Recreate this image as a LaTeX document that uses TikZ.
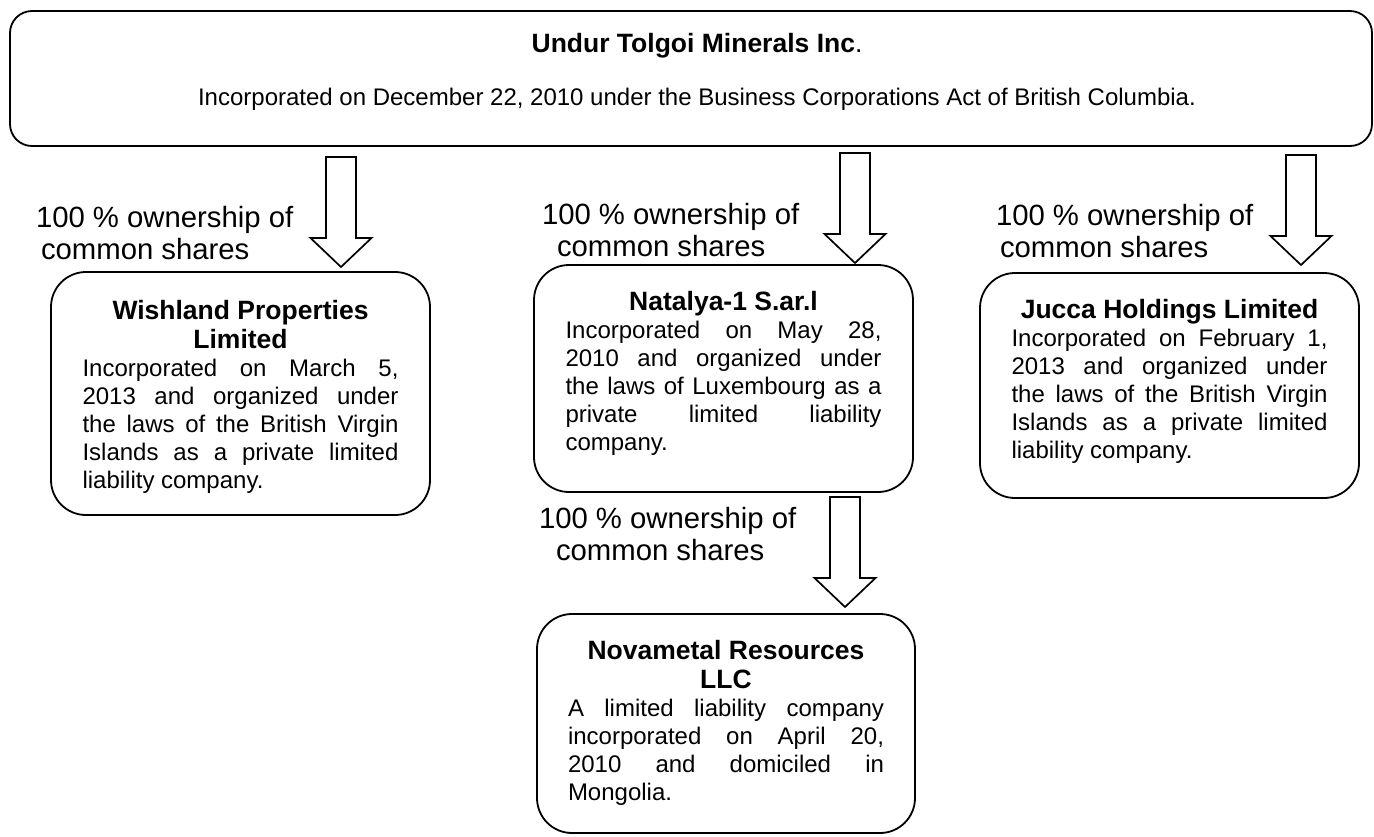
\documentclass[tikz,border=0pt]{standalone}
\usepackage{fontspec}
\setmainfont{Liberation Sans}
\usetikzlibrary{calc}
\newcommand\jl[1]{\makebox[\linewidth][s]{#1}\par}
\newcommand\lastline[1]{\makebox[\linewidth][l]{#1}\par}
\newcommand\boxtitle[1]{{\fontsize{26.5}{29}\selectfont\bfseries #1\par}}
\newcommand\blockarrow[1]{\draw[blockarr] (#1) -- ++(-30.5,-29) -- ++(15.5,0) -- ++(0,-81) -- ++(30,0) -- ++(0,81) -- ++(15.5,0) -- cycle;}
\tikzset{
  every node/.style={inner sep=0pt, outer sep=0pt},
  company/.style={draw, line width=1.8pt, rounded corners=35pt, minimum width=379pt, anchor=north west},
  topbox/.style={draw, line width=1.8pt, rounded corners=22pt, anchor=north west, minimum width=1362pt, minimum height=135pt},
  body/.style={anchor=base, font=\fontsize{24}{28}\selectfont},
  lbl/.style={anchor=base west, font=\fontsize{29.3}{32}\selectfont},
  blockarr/.style={draw, line width=1.7pt, fill=white, line join=miter},
}
\begin{document}
\begin{tikzpicture}[x=1pt, y=-1pt]
\useasboundingbox (0,0) rectangle (1374,836);
% top box
\node[topbox] (top) at (10,11) {};
\node[anchor=base, font=\fontsize{26.5}{29}\selectfont] (toptitle) at (697,52) {\textbf{Undur Tolgoi Minerals Inc}.};
\node[anchor=base, font=\fontsize{24}{28}\selectfont] (topsub) at (697,105) {Incorporated on December 22, 2010 under the Business Corporations Act of British Columbia.};
% company boxes
\node[company, minimum height=243pt] (wish) at (51,272) {};
\node[company, minimum height=227pt] (nat) at (534,265) {};
\node[company, minimum height=225pt] (jucca) at (980,273) {};
\node[company, minimum height=219pt, minimum width=378pt] (nova) at (537,614) {};
% box texts
\node[body] (wisht) at ($(wish.north)+(0,47)$) {\parbox[t]{316pt}{\centering
  \boxtitle{Wishland Properties\\Limited}
  \jl{Incorporated on March 5,}
  \jl{2013 and organized under}
  \jl{the laws of the British Virgin}
  \jl{Islands as a private limited}
  \lastline{liability company.}}};
\node[body] (natt) at ($(nat.north)+(0,45)$) {\parbox[t]{316pt}{\centering
  \boxtitle{Natalya-1 S.ar.l}
  \jl{Incorporated on May 28,}
  \jl{2010 and organized under}
  \jl{the laws of Luxembourg as a}
  \jl{private limited liability}
  \lastline{company.}}};
\node[body] (juccat) at ($(jucca.north)+(0,45)$) {\parbox[t]{316pt}{\centering
  \boxtitle{Jucca Holdings Limited}
  \jl{Incorporated on February 1,}
  \jl{2013 and organized under}
  \jl{the laws of the British Virgin}
  \jl{Islands as a private limited}
  \lastline{liability company.}}};
\node[body] (novat) at ($(nova.north)+(0,45)$) {\parbox[t]{316pt}{\centering
  \boxtitle{Novametal Resources\\LLC}
  \jl{A limited liability company}
  \jl{incorporated on April 20,}
  \jl{2010 and domiciled in}
  \lastline{Mongolia.}}};
% arrow tips
\coordinate (tipW) at ($(wish.north west)+(290,-5)$);
\coordinate (tipN) at ($(nat.north west)+(321,-2)$);
\coordinate (tipJ) at ($(jucca.north west)+(321,-8)$);
\coordinate (tipV) at ($(nova.north west)+(308,-7)$);
\blockarrow{tipW}
\blockarrow{tipN}
\blockarrow{tipJ}
\blockarrow{tipV}
% labels
\node[lbl] (lblW) at (36,227) {\parbox[t]{330pt}{\raggedright 100 \% ownership of\\\hspace*{5pt}common shares}};
\node[lbl] (lblN) at (542,224) {\parbox[t]{330pt}{\raggedright 100 \% ownership of\\\hspace*{15pt}common shares}};
\node[lbl] (lblJ) at (996,225) {\parbox[t]{330pt}{\raggedright 100 \% ownership of\\\hspace*{4pt}common shares}};
\node[lbl] (lblV) at (539,528) {\parbox[t]{330pt}{\raggedright 100 \% ownership of\\\hspace*{17pt}common shares}};
\end{tikzpicture}
\end{document}
